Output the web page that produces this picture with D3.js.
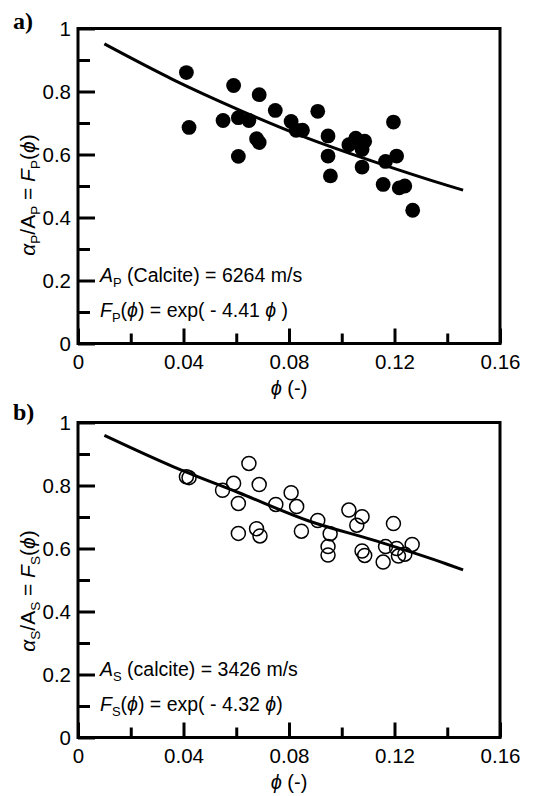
<!DOCTYPE html>
<html><head><meta charset="utf-8">
<script src="https://cdn.jsdelivr.net/npm/d3@7"></script>
<style>
html,body{margin:0;padding:0;background:#fff;}
svg{display:block;}
text{font-family:"Liberation Sans",Arial,sans-serif;fill:#000;}
</style></head>
<body>
<svg id="chart" width="543" height="796"></svg>
<script>
// ---------- data ----------
const phiTicks = [0, 0.04, 0.08, 0.12, 0.16];
const phiMinor = [0.02, 0.06, 0.10, 0.14];
const valTicks = [0, 0.2, 0.4, 0.6, 0.8, 1];
const valMinor = [0.1, 0.3, 0.5, 0.7, 0.9];
const phiTickLabels = ["0", "0.04", "0.08", "0.12", "0.16"];
const valTickLabels = ["0", "0.2", "0.4", "0.6", "0.8", "1"];

// Panel a) P-wave
const phiP = [0.0411,0.0421,0.0590,0.0687,0.0550,0.0608,0.0648,0.0677,0.0687,0.0608,
              0.0748,0.0808,0.0827,0.0851,0.0909,0.0948,0.0948,0.0957,0.1027,0.1053,
              0.1087,0.1077,0.1077,0.1196,0.1166,0.1208,0.1157,0.1218,0.1239,0.1269];
const ratioP = [0.860,0.686,0.819,0.790,0.708,0.717,0.708,0.650,0.638,0.594,
                0.740,0.705,0.677,0.677,0.737,0.659,0.595,0.532,0.631,0.652,
                0.642,0.616,0.560,0.703,0.578,0.595,0.505,0.494,0.500,0.423];
// Panel b) S-wave
const phiS = [0.0411,0.0421,0.0648,0.0548,0.0590,0.0608,0.0687,0.0608,0.0677,0.0690,
              0.0750,0.0808,0.0829,0.0847,0.0909,0.0956,0.0948,0.0948,0.1027,0.1077,
              0.1057,0.1077,0.1087,0.1196,0.1166,0.1157,0.1208,0.1215,0.1239,0.1267];
const ratioS = [0.828,0.825,0.870,0.785,0.807,0.743,0.803,0.648,0.663,0.640,
                0.740,0.777,0.733,0.655,0.689,0.647,0.606,0.579,0.722,0.701,
                0.674,0.592,0.578,0.679,0.606,0.557,0.600,0.576,0.582,0.613];
// fitted curves
const curvePhi = [0.010, 0.036, 0.061, 0.087, 0.113, 0.140, 0.146];
const curveP   = [0.951, 0.838, 0.742, 0.652, 0.575, 0.502, 0.487];
const curveS   = [0.959, 0.860, 0.777, 0.689, 0.624, 0.550, 0.532];

// ---------- layout ----------
const svg = d3.select("#chart");
const X0 = 78, X1 = 500;
const x = d3.scaleLinear().domain([0, 0.16]).range([X0, X1]);

const panels = [
  {top: 28.5, bottom: 343.5, label: "a)", labelY: 29, phi: phiP, val: ratioP, curve: curveP,
   filled: true, sub: "P", ylabTitleY: 195, ann1: "(Calcite) = 6264 m/s", coef: "4.41", tail: " )"},
  {top: 422.5, bottom: 737.5, label: "b)", labelY: 420, phi: phiS, val: ratioS, curve: curveS,
   filled: false, sub: "S", ylabTitleY: 591, ann1: "(calcite) = 3426 m/s", coef: "4.32", tail: ")"}
];

panels.forEach(p => {
  const y = d3.scaleLinear().domain([0, 1]).range([p.bottom, p.top]);
  const g = svg.append("g");

  // x axis (major, inward)
  const xa = g.append("g").attr("transform", `translate(0,${p.bottom})`)
    .call(d3.axisBottom(x).tickValues(phiTicks).tickFormat((d,i)=>phiTickLabels[i])
      .tickSize(-15).tickPadding(11));
  xa.select(".domain").remove();
  xa.selectAll("line").attr("stroke", "#000").attr("stroke-width", 3);
  xa.selectAll("text").attr("font-size", 20.5).attr("font-family", "Liberation Sans, Arial, sans-serif");
  const xm = g.append("g").attr("transform", `translate(0,${p.bottom})`)
    .call(d3.axisBottom(x).tickValues(phiMinor).tickFormat("").tickSize(-10));
  xm.select(".domain").remove();
  xm.selectAll("line").attr("stroke", "#000").attr("stroke-width", 3);

  // y axis
  const ya = g.append("g").attr("transform", `translate(${X0},0)`)
    .call(d3.axisLeft(y).tickValues(valTicks).tickFormat((d,i)=>valTickLabels[i])
      .tickSize(-17).tickPadding(7));
  ya.select(".domain").remove();
  ya.selectAll("line").attr("stroke", "#000").attr("stroke-width", 3);
  ya.selectAll("text").attr("font-size", 20.5).attr("font-family", "Liberation Sans, Arial, sans-serif");
  const ym = g.append("g").attr("transform", `translate(${X0},0)`)
    .call(d3.axisLeft(y).tickValues(valMinor).tickFormat("").tickSize(-12));
  ym.select(".domain").remove();
  ym.selectAll("line").attr("stroke", "#000").attr("stroke-width", 3);

  // frame
  g.append("rect").attr("x", X0).attr("y", p.top).attr("width", X1 - X0).attr("height", p.bottom - p.top)
    .attr("fill", "none").attr("stroke", "#000").attr("stroke-width", 3);

  // curve
  const line = d3.line().x(d => x(d[0])).y(d => y(d[1])).curve(d3.curveMonotoneX);
  g.append("path").datum(curvePhi.map((f, i) => [f, p.curve[i]]))
    .attr("d", line).attr("fill", "none").attr("stroke", "#000").attr("stroke-width", 3);

  // points
  g.selectAll("circle.pt").data(p.phi.map((f, i) => [f, p.val[i]])).enter()
    .append("circle").attr("class", "pt")
    .attr("cx", d => x(d[0])).attr("cy", d => y(d[1]))
    .attr("r", p.filled ? 7.4 : 7.0)
    .attr("fill", p.filled ? "#000" : "none")
    .attr("stroke", "#000").attr("stroke-width", p.filled ? 0 : 1.5);

  // panel label
  g.append("text").attr("x", 13).attr("y", p.labelY)
    .style("font-family", "'Liberation Serif','Times New Roman',serif")
    .attr("font-weight", "bold").attr("font-size", 24).text(p.label);

  // x title
  const xt = g.append("text").attr("x", (X0 + X1) / 2).attr("y", p.bottom + 51)
    .attr("text-anchor", "middle").attr("font-size", 20);
  xt.append("tspan").attr("font-style", "italic").text("ϕ");
  xt.append("tspan").text(" (-)");

  // y title
  const yt = g.append("text").attr("transform", `translate(35,${p.ylabTitleY}) rotate(-90)`)
    .attr("text-anchor", "middle").attr("font-size", 21);
  yt.append("tspan").attr("font-style", "italic").text("α");
  yt.append("tspan").attr("font-size", 13.5).attr("dy", 5).text(p.sub);
  yt.append("tspan").attr("dy", -5).text("/A");
  yt.append("tspan").attr("font-size", 13.5).attr("dy", 5).text(p.sub);
  yt.append("tspan").attr("dy", -5).text(" = ");
  yt.append("tspan").attr("font-style", "italic").text("F");
  yt.append("tspan").attr("font-size", 13.5).attr("dy", 5).text(p.sub);
  yt.append("tspan").attr("dy", -5).text("(");
  yt.append("tspan").attr("font-style", "italic").text("ϕ");
  yt.append("tspan").text(")");

  // annotations
  const a1 = g.append("text").attr("x", 100).attr("y", p.bottom - 62).attr("font-size", 19.5);
  a1.append("tspan").attr("font-style", "italic").text("A");
  a1.append("tspan").attr("font-size", 13).attr("dy", 5).text(p.sub);
  a1.append("tspan").attr("dy", -5).text(" " + p.ann1);

  const a2 = g.append("text").attr("x", 100).attr("y", p.bottom - 27).attr("font-size", 19.5);
  a2.append("tspan").attr("font-style", "italic").text("F");
  a2.append("tspan").attr("font-size", 13).attr("dy", 5).text(p.sub);
  a2.append("tspan").attr("dy", -5).text("(");
  a2.append("tspan").attr("font-style", "italic").text("ϕ");
  a2.append("tspan").text(") = exp( - " + p.coef + " ");
  a2.append("tspan").attr("font-style", "italic").text("ϕ");
  a2.append("tspan").text(p.tail);
});
</script>
</body></html>
